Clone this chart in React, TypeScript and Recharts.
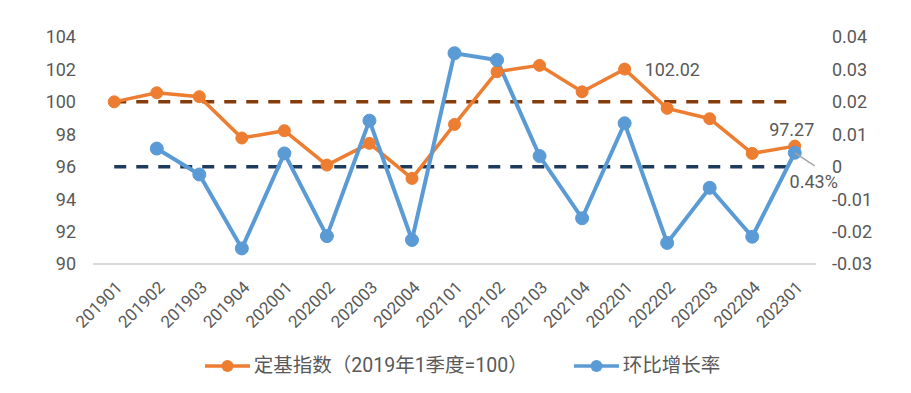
import React from "react";
import {
  LineChart,
  Line,
  XAxis,
  YAxis,
  ReferenceLine,
  Legend,
  LabelList,
} from "recharts";

const quarters = [
  "201901", "201902", "201903", "201904",
  "202001", "202002", "202003", "202004",
  "202101", "202102", "202103", "202104",
  "202201", "202202", "202203", "202204",
  "202301",
];

const baseIndex = [
  100, 100.56, 100.32, 97.77, 98.22, 96.1, 97.44, 95.28, 98.61, 101.86,
  102.25, 100.62, 102.02, 99.6, 98.96, 96.82, 97.27,
];

const qoqRate: (number | null)[] = [
  null, 0.0056, -0.0024, -0.0252, 0.0041, -0.0214, 0.0142, -0.0226, 0.035,
  0.0329, 0.0033, -0.0159, 0.0134, -0.0235, -0.0065, -0.0216, 0.0043,
];

const leftTicks = [90, 92, 94, 96, 98, 100, 102, 104];
const rightTicks = [-0.03, -0.02, -0.01, 0, 0.01, 0.02, 0.03, 0.04];

const indexRefValue = 100;
const rateRefValue = 0;

const indexName = "定基指数（2019年1季度=100）";
const rateName = "环比增长率";

const labeledIndexQuarters = ["202201", "202301"];
const labeledRateQuarters = ["202301"];

const data = quarters.map((q, i) => ({
  q,
  idx: baseIndex[i],
  rate: qoqRate[i],
}));

const ORANGE = "#ED7D31";
const BLUE = "#5B9BD5";
const TEXT = "#595959";
const FONT = "Roboto, 'Noto Sans CJK SC', sans-serif";

const XTick = (props: any) => {
  const { x, y, payload } = props;
  return (
    <g transform={`translate(${x + 9},${y + 24.5})`}>
      <text
        x={0}
        y={0}
        transform="rotate(-45)"
        textAnchor="end"
        fill={TEXT}
        fontSize={17}
        fontFamily={FONT}
      >
        {payload.value}
      </text>
    </g>
  );
};

const IndexLabel = (props: any) => {
  const { x, y, value, index } = props;
  const q = quarters[index];
  if (!labeledIndexQuarters.includes(q)) return null;
  const txt = Number(value).toFixed(2);
  if (index === quarters.length - 1) {
    return (
      <text x={x - 3} y={y - 17} dy="0.355em" textAnchor="middle" fill={TEXT} fontSize={18} fontFamily={FONT}>
        {txt}
      </text>
    );
  }
  return (
    <text x={x + 20} y={y + 1} dy="0.355em" textAnchor="start" fill={TEXT} fontSize={18} fontFamily={FONT}>
      {txt}
    </text>
  );
};

const RateLabel = (props: any) => {
  const { x, y, value, index } = props;
  const q = quarters[index];
  if (!labeledRateQuarters.includes(q)) return null;
  const txt = (Number(value) * 100).toFixed(2) + "%";
  return (
    <g>
      <line x1={x} y1={y} x2={x + 20} y2={y + 13} stroke="#A6A6A6" strokeWidth={1.5} />
      <text x={x + 19} y={y + 29} dy="0.355em" textAnchor="middle" fill={TEXT} fontSize={18} fontFamily={FONT}>
        {txt}
      </text>
    </g>
  );
};

const LegendContent = () => {
  const item = (color: string, label: string, ml: number) => (
    <div style={{ display: "flex", alignItems: "center", marginLeft: ml }}>
      <svg width={45} height={14} style={{ display: "block" }}>
        <line x1={0} y1={7} x2={45} y2={7} stroke={color} strokeWidth={3.5} />
        <circle cx={22.5} cy={7} r={6} fill={color} />
      </svg>
      <span style={{ marginLeft: 4, fontSize: 19.5, color: TEXT, fontFamily: FONT, whiteSpace: "nowrap" }}>
        {label}
      </span>
    </div>
  );
  return (
    <div
      style={{
        display: "flex",
        justifyContent: "center",
        alignItems: "center",
        height: 24,
        lineHeight: "24px",
        paddingLeft: 6,
      }}
    >
      {item(ORANGE, indexName, 0)}
      {item(BLUE, rateName, 46)}
    </div>
  );
};

export default function App() {
  return (
    <div style={{ width: 903, height: 385, background: "#fff" }}>
      <LineChart
        width={903}
        height={385}
        data={data}
        margin={{ top: 29, right: 0, left: 0, bottom: 59 }}
      >
        <XAxis
          dataKey="q"
          xAxisId="x"
          height={70}
          interval={0}
          padding={{ left: 21.25, right: 21.25 }}
          axisLine={{ stroke: "#D9D9D9", strokeWidth: 2 }}
          tickLine={false}
          tickSize={0}
          tickMargin={0}
          tick={<XTick />}
        />
        <YAxis
          yAxisId="left"
          width={85}
          domain={[90, 104]}
          ticks={leftTicks}
          axisLine={false}
          tickLine={false}
          tickSize={0}
          tickMargin={17}
          tick={{ fill: TEXT, fontSize: 18, fontFamily: FONT }}
        />
        <YAxis
          yAxisId="right"
          orientation="right"
          width={95}
          domain={[-0.03, 0.04]}
          ticks={rightTicks}
          axisLine={false}
          tickLine={false}
          tickSize={0}
          tickMargin={16}
          tick={{ fill: TEXT, fontSize: 18, fontFamily: FONT }}
        />
        <ReferenceLine
          xAxisId="x"
          yAxisId="left"
          segment={[
            { x: quarters[0], y: indexRefValue },
            { x: quarters[quarters.length - 1], y: indexRefValue },
          ]}
          stroke="#843C0C"
          strokeWidth={3.5}
          strokeDasharray="12 10"
        />
        <ReferenceLine
          xAxisId="x"
          yAxisId="right"
          segment={[
            { x: quarters[0], y: rateRefValue },
            { x: quarters[quarters.length - 1], y: rateRefValue },
          ]}
          stroke="#1F3B5C"
          strokeWidth={3.5}
          strokeDasharray="12 10"
        />
        <Line
          xAxisId="x"
          yAxisId="left"
          type="linear"
          dataKey="idx"
          name={indexName}
          stroke={ORANGE}
          strokeWidth={3.5}
          dot={{ r: 6, fill: ORANGE, stroke: ORANGE, strokeWidth: 1 }}
          activeDot={false}
          isAnimationActive={false}
        >
          <LabelList dataKey="idx" content={<IndexLabel />} />
        </Line>
        <Line
          xAxisId="x"
          yAxisId="right"
          type="linear"
          dataKey="rate"
          name={rateName}
          stroke={BLUE}
          strokeWidth={4}
          dot={{ r: 6.5, fill: BLUE, stroke: BLUE, strokeWidth: 1 }}
          activeDot={false}
          connectNulls={false}
          isAnimationActive={false}
        >
          <LabelList dataKey="rate" content={<RateLabel />} />
        </Line>
        <Legend
          verticalAlign="middle"
          align="center"
          layout="horizontal"
          wrapperStyle={{ top: 346, left: 0, width: 903 }}
          content={<LegendContent />}
        />
      </LineChart>
    </div>
  );
}
